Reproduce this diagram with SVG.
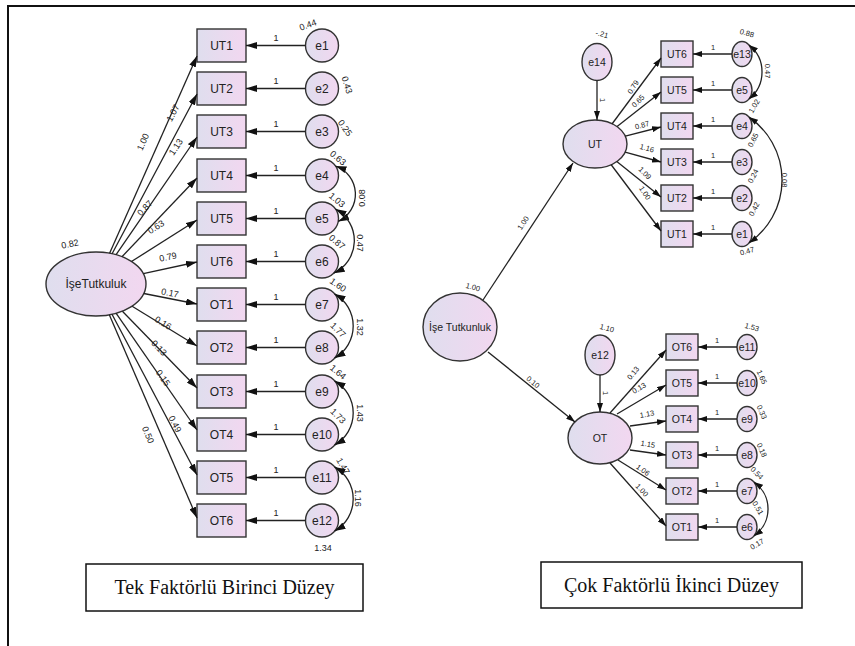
<svg xmlns="http://www.w3.org/2000/svg" width="855" height="646" viewBox="0 0 855 646">
<defs>
<linearGradient id="g" x1="0" y1="0" x2="1" y2="0">
<stop offset="0" stop-color="#dfdeee"/>
<stop offset="1" stop-color="#f2d7f0"/>
</linearGradient>
<marker id="ah" viewBox="0 0 11 7" refX="11" refY="3.5" markerWidth="11" markerHeight="7" markerUnits="userSpaceOnUse" orient="auto"><path d="M0,0L11,3.5L0,7z" fill="#111"/></marker>
<marker id="ahr" viewBox="0 0 11 7" refX="11" refY="3.5" markerWidth="11" markerHeight="7" markerUnits="userSpaceOnUse" orient="auto-start-reverse"><path d="M0,0L11,3.5L0,7z" fill="#111"/></marker>
<marker id="sh" viewBox="0 0 9 6" refX="9" refY="3" markerWidth="9" markerHeight="6" markerUnits="userSpaceOnUse" orient="auto"><path d="M0,0L9,3L0,6z" fill="#111"/></marker>
<marker id="shr" viewBox="0 0 9 6" refX="9" refY="3" markerWidth="9" markerHeight="6" markerUnits="userSpaceOnUse" orient="auto-start-reverse"><path d="M0,0L9,3L0,6z" fill="#111"/></marker>
</defs>
<style>
.sh{fill:url(#g);stroke:#333;stroke-width:1.4}
.n{font-family:"Liberation Sans",Arial,sans-serif;fill:#222;text-anchor:middle}
.l1{font-size:12px}
.l2{font-size:10.5px}
.s1{font-size:9px}
.s2{font-size:7.5px}
.c{stroke:#222;stroke-width:1.3;fill:none}
.a{marker-end:url(#ah)}
.b{marker-end:url(#ahr);marker-start:url(#ahr)}
.sa{marker-end:url(#sh)}
.sb{marker-end:url(#shr);marker-start:url(#shr)}
.cap{fill:#fff;stroke:#111;stroke-width:1.5}
.ct{font-family:"Liberation Serif","Times New Roman",serif;font-size:20px;fill:#111;text-anchor:middle}
</style>
<rect width="855" height="646" fill="#fff"/>
<path d="M8,646V6H855" fill="none" stroke="#111" stroke-width="2"/>

<!-- LEFT DIAGRAM NODES -->
<g id="L-IseTutkuluk"><ellipse class="sh" cx="96" cy="284" rx="50" ry="32"/><text class="n l1" x="96" y="288.3">İşeTutkuluk</text><text class="n s1" transform="translate(70,244) rotate(-12)" y="3">0.82</text></g>
<g id="L-UT1"><rect class="sh" x="197" y="29" width="49" height="33"/><text class="n l1" x="221.5" y="49.8">UT1</text></g>
<g id="L-UT2"><rect class="sh" x="197" y="72" width="49" height="33"/><text class="n l1" x="221.5" y="92.8">UT2</text></g>
<g id="L-UT3"><rect class="sh" x="197" y="115" width="49" height="33"/><text class="n l1" x="221.5" y="135.8">UT3</text></g>
<g id="L-UT4"><rect class="sh" x="197" y="159" width="49" height="33"/><text class="n l1" x="221.5" y="179.8">UT4</text></g>
<g id="L-UT5"><rect class="sh" x="197" y="202" width="49" height="33"/><text class="n l1" x="221.5" y="222.8">UT5</text></g>
<g id="L-UT6"><rect class="sh" x="197" y="245" width="49" height="33"/><text class="n l1" x="221.5" y="265.8">UT6</text></g>
<g id="L-OT1"><rect class="sh" x="197" y="288" width="49" height="33"/><text class="n l1" x="221.5" y="308.8">OT1</text></g>
<g id="L-OT2"><rect class="sh" x="197" y="331" width="49" height="33"/><text class="n l1" x="221.5" y="351.8">OT2</text></g>
<g id="L-OT3"><rect class="sh" x="197" y="375" width="49" height="33"/><text class="n l1" x="221.5" y="395.8">OT3</text></g>
<g id="L-OT4"><rect class="sh" x="197" y="418" width="49" height="33"/><text class="n l1" x="221.5" y="438.8">OT4</text></g>
<g id="L-OT5"><rect class="sh" x="197" y="461" width="49" height="33"/><text class="n l1" x="221.5" y="481.8">OT5</text></g>
<g id="L-OT6"><rect class="sh" x="197" y="504" width="49" height="33"/><text class="n l1" x="221.5" y="524.8">OT6</text></g>

<g id="L-e1"><circle class="sh" cx="322" cy="45.5" r="16.5"/><text class="n l1" x="322" y="49.8">e1</text><text class="n s1" transform="translate(308,25) rotate(-20)" y="3">0.44</text></g>
<g id="L-e2"><circle class="sh" cx="322" cy="88.5" r="16.5"/><text class="n l1" x="322" y="92.8">e2</text><text class="n s1" transform="translate(347,85) rotate(72)" y="3">0.43</text></g>
<g id="L-e3"><circle class="sh" cx="322" cy="131.5" r="16.5"/><text class="n l1" x="322" y="135.8">e3</text><text class="n s1" transform="translate(345,128) rotate(55)" y="3">0.25</text></g>
<g id="L-e4"><circle class="sh" cx="322" cy="175.5" r="16.5"/><text class="n l1" x="322" y="179.8">e4</text><text class="n s1" transform="translate(338,158) rotate(40)" y="3">0.63</text></g>
<g id="L-e5"><circle class="sh" cx="322" cy="218.5" r="16.5"/><text class="n l1" x="322" y="222.8">e5</text><text class="n s1" transform="translate(337,200) rotate(40)" y="3">1.03</text></g>
<g id="L-e6"><circle class="sh" cx="322" cy="261.5" r="16.5"/><text class="n l1" x="322" y="265.8">e6</text><text class="n s1" transform="translate(337,242) rotate(40)" y="3">0.87</text></g>
<g id="L-e7"><circle class="sh" cx="322" cy="304.5" r="16.5"/><text class="n l1" x="322" y="308.8">e7</text><text class="n s1" transform="translate(338,285) rotate(35)" y="3">1.60</text></g>
<g id="L-e8"><circle class="sh" cx="322" cy="347.5" r="16.5"/><text class="n l1" x="322" y="351.8">e8</text><text class="n s1" transform="translate(338,330) rotate(45)" y="3">1.77</text></g>
<g id="L-e9"><circle class="sh" cx="322" cy="391.5" r="16.5"/><text class="n l1" x="322" y="395.8">e9</text><text class="n s1" transform="translate(338,372) rotate(40)" y="3">1.64</text></g>
<g id="L-e10"><circle class="sh" cx="322" cy="434.5" r="16.5"/><text class="n l1" x="322" y="438.8">e10</text><text class="n s1" transform="translate(338,416) rotate(45)" y="3">1.73</text></g>
<g id="L-e11"><circle class="sh" cx="322" cy="477.5" r="16.5"/><text class="n l1" x="322" y="481.8">e11</text><text class="n s1" transform="translate(343,466) rotate(60)" y="3">1.47</text></g>
<g id="L-e12"><circle class="sh" cx="322" cy="520.5" r="16.5"/><text class="n l1" x="322" y="524.8">e12</text><text class="n s1" x="323" y="551">1.34</text></g>

<!-- RIGHT DIAGRAM NODES -->
<g id="R-IseTutkunluk"><ellipse class="sh" cx="460" cy="327" rx="37" ry="34"/><text class="n l2" x="460" y="330.8">İşe Tutkunluk</text><text class="n s2" transform="translate(473,287) rotate(15)" y="2.7">1.00</text></g>
<g id="R-UT"><ellipse class="sh" cx="595" cy="144" rx="32" ry="24"/><text class="n l2" x="595" y="147.8">UT</text></g>
<g id="R-OT"><ellipse class="sh" cx="600" cy="438" rx="32" ry="26"/><text class="n l2" x="600" y="441.8">OT</text></g>
<g id="R-e14"><ellipse class="sh" cx="597" cy="62" rx="15" ry="18.5"/><text class="n l2" x="597" y="65.8">e14</text><text class="n s2" transform="translate(602,34) rotate(15)" y="2.7">-.21</text></g>
<g id="R-e12"><ellipse class="sh" cx="600" cy="355" rx="15" ry="20"/><text class="n l2" x="600" y="358.8">e12</text><text class="n s2" transform="translate(607,328) rotate(15)" y="2.7">1.10</text></g>

<g id="R-UT6"><rect class="sh" x="661" y="41" width="32" height="26"/><text class="n l2" x="677" y="57.8">UT6</text></g>
<g id="R-UT5"><rect class="sh" x="661" y="77" width="32" height="26"/><text class="n l2" x="677" y="93.8">UT5</text></g>
<g id="R-UT4"><rect class="sh" x="661" y="113" width="32" height="26"/><text class="n l2" x="677" y="129.8">UT4</text></g>
<g id="R-UT3"><rect class="sh" x="661" y="149" width="32" height="26"/><text class="n l2" x="677" y="165.8">UT3</text></g>
<g id="R-UT2"><rect class="sh" x="661" y="185" width="32" height="26"/><text class="n l2" x="677" y="201.8">UT2</text></g>
<g id="R-UT1"><rect class="sh" x="661" y="221" width="32" height="26"/><text class="n l2" x="677" y="237.8">UT1</text></g>

<g id="R-e13"><ellipse class="sh" cx="742" cy="54" rx="10" ry="12.5"/><text class="n l2" x="742" y="57.8">e13</text><text class="n s2" transform="translate(747,33) rotate(15)" y="2.7">0.88</text></g>
<g id="R-e5"><ellipse class="sh" cx="742" cy="90" rx="10" ry="12.5"/><text class="n l2" x="742" y="93.8">e5</text><text class="n s2" transform="translate(754,106) rotate(-60)" y="2.7">1.02</text></g>
<g id="R-e4"><ellipse class="sh" cx="742" cy="126" rx="10" ry="12.5"/><text class="n l2" x="742" y="129.8">e4</text><text class="n s2" transform="translate(753,140) rotate(-62)" y="2.7">0.65</text></g>
<g id="R-e3"><ellipse class="sh" cx="742" cy="162" rx="10" ry="12.5"/><text class="n l2" x="742" y="165.8">e3</text><text class="n s2" transform="translate(753,176) rotate(-62)" y="2.7">0.24</text></g>
<g id="R-e2"><ellipse class="sh" cx="742" cy="198" rx="10" ry="12.5"/><text class="n l2" x="742" y="201.8">e2</text><text class="n s2" transform="translate(754,209) rotate(-62)" y="2.7">0.42</text></g>
<g id="R-e1"><ellipse class="sh" cx="742" cy="234" rx="10" ry="12.5"/><text class="n l2" x="742" y="237.8">e1</text><text class="n s2" transform="translate(747,251) rotate(-15)" y="2.7">0.47</text></g>

<g id="R-OT6"><rect class="sh" x="666" y="334" width="32" height="26"/><text class="n l2" x="682" y="350.8">OT6</text></g>
<g id="R-OT5"><rect class="sh" x="666" y="370" width="32" height="26"/><text class="n l2" x="682" y="386.8">OT5</text></g>
<g id="R-OT4"><rect class="sh" x="666" y="406" width="32" height="26"/><text class="n l2" x="682" y="422.8">OT4</text></g>
<g id="R-OT3"><rect class="sh" x="666" y="442" width="32" height="26"/><text class="n l2" x="682" y="458.8">OT3</text></g>
<g id="R-OT2"><rect class="sh" x="666" y="478" width="32" height="26"/><text class="n l2" x="682" y="494.8">OT2</text></g>
<g id="R-OT1"><rect class="sh" x="666" y="514" width="32" height="26"/><text class="n l2" x="682" y="530.8">OT1</text></g>

<g id="R-e11"><ellipse class="sh" cx="747" cy="347" rx="10" ry="12.5"/><text class="n l2" x="747" y="350.8">e11</text><text class="n s2" transform="translate(752,327) rotate(15)" y="2.7">1.53</text></g>
<g id="R-e10"><ellipse class="sh" cx="747" cy="383" rx="10" ry="12.5"/><text class="n l2" x="747" y="386.8">e10</text><text class="n s2" transform="translate(762,377) rotate(65)" y="2.7">1.65</text></g>
<g id="R-e9"><ellipse class="sh" cx="747" cy="419" rx="10" ry="12.5"/><text class="n l2" x="747" y="422.8">e9</text><text class="n s2" transform="translate(762,412) rotate(65)" y="2.7">0.33</text></g>
<g id="R-e8"><ellipse class="sh" cx="747" cy="455" rx="10" ry="12.5"/><text class="n l2" x="747" y="458.8">e8</text><text class="n s2" transform="translate(762,450) rotate(65)" y="2.7">0.18</text></g>
<g id="R-e7"><ellipse class="sh" cx="747" cy="491" rx="10" ry="12.5"/><text class="n l2" x="747" y="494.8">e7</text><text class="n s2" transform="translate(757,473) rotate(45)" y="2.7">0.54</text></g>
<g id="R-e6"><ellipse class="sh" cx="747" cy="527" rx="10" ry="12.5"/><text class="n l2" x="747" y="530.8">e6</text><text class="n s2" transform="translate(757,544) rotate(-30)" y="2.7">0.17</text></g>

<!-- CONNECTORS -->
<g id="connectors">
<!-- left loadings -->
<path class="c a" d="M109.6,253.2L197,56"/>
<path class="c a" d="M112.1,253.7L197,94"/>
<path class="c a" d="M116.1,254.7L197,137"/>
<path class="c a" d="M122,256.7L197,178"/>
<path class="c a" d="M131.5,261.5L197,220"/>
<path class="c a" d="M143.3,273.7L197,262"/>
<path class="c a" d="M143.8,293.5L197,304"/>
<path class="c a" d="M132.1,306.2L197,346"/>
<path class="c a" d="M122.4,311.2L197,388"/>
<path class="c a" d="M116.2,313.3L197,430"/>
<path class="c a" d="M112,314.3L197,475"/>
<path class="c a" d="M109.3,314.8L197,518"/>
<!-- left error paths -->
<path class="c a" d="M305.5,45.5H246"/>
<path class="c a" d="M305.5,88.5H246"/>
<path class="c a" d="M305.5,131.5H246"/>
<path class="c a" d="M305.5,175.5H246"/>
<path class="c a" d="M305.5,218.5H246"/>
<path class="c a" d="M305.5,261.5H246"/>
<path class="c a" d="M305.5,304.5H246"/>
<path class="c a" d="M305.5,347.5H246"/>
<path class="c a" d="M305.5,391.5H246"/>
<path class="c a" d="M305.5,434.5H246"/>
<path class="c a" d="M305.5,477.5H246"/>
<path class="c a" d="M305.5,520.5H246"/>
<!-- left covariances -->
<path class="c b" d="M335.5,166A30,30 0 0 1 338.2,221.4"/>
<path class="c b" d="M335.5,209A36,36 0 0 1 333.7,273.2"/>
<path class="c b" d="M334.6,293.9A37,37 0 0 1 334.6,358.1"/>
<path class="c b" d="M334.6,380.9A37,37 0 0 1 334.6,445.1"/>
<path class="c b" d="M334.6,466.9A37,37 0 0 1 334.6,531.1"/>

<!-- right structural -->
<path class="c sa" d="M483,300L573,163"/>
<path class="c sa" d="M488,352L575,422"/>
<path class="c sa" d="M597,80.5V120"/>
<path class="c sa" d="M600,375V412"/>
<!-- right UT loadings -->
<path class="c sa" d="M612,124L661,58"/>
<path class="c sa" d="M617.1,126.6L661,92"/>
<path class="c sa" d="M625.3,136.2L661,127"/>
<path class="c sa" d="M625.1,152.2L661,162"/>
<path class="c sa" d="M616.8,161.5L661,197"/>
<path class="c sa" d="M611,164.5L661,231"/>
<!-- right OT loadings -->
<path class="c sa" d="M610,413L666,350"/>
<path class="c sa" d="M617,414L666,385"/>
<path class="c sa" d="M630,426L666,421"/>
<path class="c sa" d="M630,450L666,455"/>
<path class="c sa" d="M618,460L666,490"/>
<path class="c sa" d="M610,463L666,526"/>
<!-- right error paths -->
<path class="c sa" d="M732,54H693"/>
<path class="c sa" d="M732,90H693"/>
<path class="c sa" d="M732,126H693"/>
<path class="c sa" d="M732,162H693"/>
<path class="c sa" d="M732,198H693"/>
<path class="c sa" d="M732,234H693"/>
<path class="c sa" d="M737,347H698"/>
<path class="c sa" d="M737,383H698"/>
<path class="c sa" d="M737,419H698"/>
<path class="c sa" d="M737,455H698"/>
<path class="c sa" d="M737,491H698"/>
<path class="c sa" d="M737,527H698"/>
<!-- right covariances -->
<path class="c sb" d="M749,45.1A34.3,34.3 0 0 1 749,98.9"/>
<path class="c sb" d="M749,117.1A76.4,76.4 0 0 1 749,242.9"/>
<path class="c sb" d="M754,482.1A32.8,32.8 0 0 1 754,535.9"/>

<!-- left labels -->
<g class="n s1">
<text transform="translate(143,142) rotate(-66)" y="3">1.00</text>
<text transform="translate(173,113) rotate(-62)" y="3">1.07</text>
<text transform="translate(176,147) rotate(-56)" y="3">1.13</text>
<text transform="translate(145,208) rotate(-46)" y="3">0.87</text>
<text transform="translate(156,227) rotate(-32)" y="3">0.63</text>
<text transform="translate(168,257) rotate(-12)" y="3">0.79</text>
<text transform="translate(170,293) rotate(11)" y="3">0.17</text>
<text transform="translate(163,323) rotate(31)" y="3">0.16</text>
<text transform="translate(159,348) rotate(46)" y="3">0.13</text>
<text transform="translate(163,378) rotate(55)" y="3">0.15</text>
<text transform="translate(175,424) rotate(62)" y="3">0.49</text>
<text transform="translate(148,435) rotate(67)" y="3">0.50</text>
<text x="276" y="41">1</text>
<text x="276" y="84">1</text>
<text x="276" y="127">1</text>
<text x="276" y="171">1</text>
<text x="276" y="214">1</text>
<text x="276" y="257">1</text>
<text x="276" y="300">1</text>
<text x="276" y="343">1</text>
<text x="276" y="387">1</text>
<text x="276" y="430">1</text>
<text x="276" y="473">1</text>
<text x="276" y="516">1</text>
<text transform="translate(362,198) rotate(-90)" y="3">0.08</text>
<text transform="translate(360,243) rotate(90)" y="3">0.47</text>
<text transform="translate(360,327) rotate(90)" y="3">1.32</text>
<text transform="translate(360,413) rotate(90)" y="3">1.43</text>
<text transform="translate(358,498) rotate(90)" y="3">1.16</text>
</g>
<!-- right labels -->
<g class="n s2">
<text transform="translate(523,223) rotate(-57)" y="2.7">1.00</text>
<text transform="translate(533,382) rotate(39)" y="2.7">0.10</text>
<text transform="translate(603,100) rotate(90)" y="2.7">1</text>
<text transform="translate(606,393) rotate(90)" y="2.7">1</text>
<text transform="translate(633,87) rotate(-58)" y="2.7">0.79</text>
<text transform="translate(638,101) rotate(-45)" y="2.7">0.65</text>
<text transform="translate(642,125) rotate(-15)" y="2.7">0.87</text>
<text transform="translate(647,148) rotate(15)" y="2.7">1.16</text>
<text transform="translate(645,173) rotate(45)" y="2.7">1.09</text>
<text transform="translate(645,193) rotate(57)" y="2.7">1.00</text>
<text transform="translate(633,373) rotate(-50)" y="2.7">0.13</text>
<text transform="translate(639,388) rotate(-30)" y="2.7">0.13</text>
<text transform="translate(647,414) rotate(-10)" y="2.7">1.13</text>
<text transform="translate(648,444) rotate(10)" y="2.7">1.15</text>
<text transform="translate(643,470) rotate(35)" y="2.7">1.06</text>
<text transform="translate(642,490) rotate(47)" y="2.7">1.00</text>
<text x="713" y="50">1</text>
<text x="713" y="86">1</text>
<text x="713" y="122">1</text>
<text x="713" y="158">1</text>
<text x="713" y="194">1</text>
<text x="713" y="230">1</text>
<text x="717" y="343">1</text>
<text x="717" y="379">1</text>
<text x="717" y="415">1</text>
<text x="717" y="451">1</text>
<text x="717" y="487">1</text>
<text x="717" y="523">1</text>
<text transform="translate(768,71) rotate(90)" y="2.7">0.47</text>
<text transform="translate(785,180) rotate(90)" y="2.7">0.08</text>
<text transform="translate(758,508) rotate(60)" y="2.7">0.51</text>
</g>
</g>

<!-- CAPTIONS -->
<g id="caption-left"><rect class="cap" x="86" y="564" width="277" height="47"/><text class="ct" x="224.5" y="594">Tek Faktörlü Birinci Düzey</text></g>
<g id="caption-right"><rect class="cap" x="541" y="562" width="261" height="46"/><text class="ct" x="671.5" y="592">Çok Faktörlü İkinci Düzey</text></g>
</svg>
